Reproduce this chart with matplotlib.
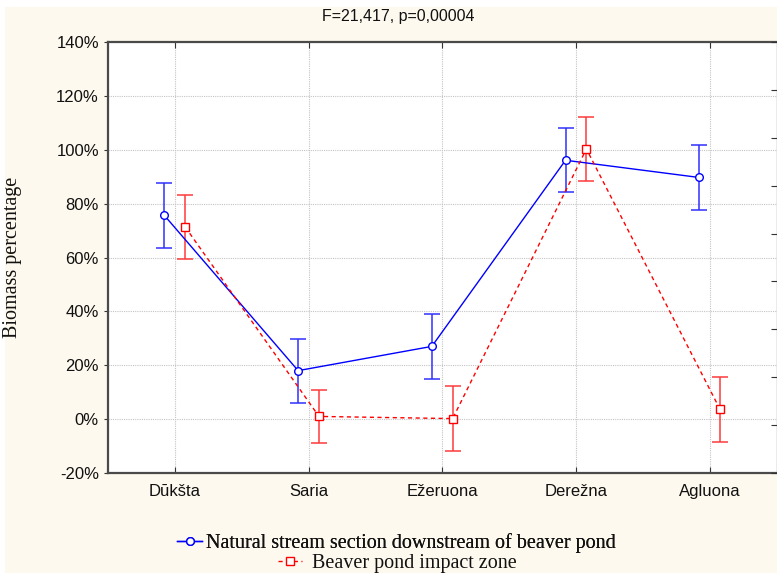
import matplotlib
matplotlib.use("Agg")
import matplotlib.pyplot as plt
from matplotlib.lines import Line2D
from matplotlib.patches import Rectangle
import numpy as np

categories = ["Dūkšta", "Saria", "Ežeruona", "Derežna", "Agluona"]
natural_mean = [75.6, 18.0, 27.0, 96.1, 89.7]
natural_err = [12.0, 11.9, 12.0, 11.9, 11.9]
impact_mean = [71.3, 1.0, 0.2, 100.3, 3.6]
impact_err = [12.0, 9.8, 12.0, 11.9, 12.0]
ytick_values = [-20, 0, 20, 40, 60, 80, 100, 120, 140]
ytick_labels = ["-20%", "0%", "20%", "40%", "60%", "80%", "100%", "120%", "140%"]
title_text = "F=21,417, p=0,00004"
ylabel_text = "Biomass percentage"
legend_natural = "Natural stream section downstream of beaver pond"
legend_impact = "Beaver pond impact zone"

W, H = 777, 573
fig = plt.figure(figsize=(W / 100, H / 100), dpi=100, facecolor="white")
fig.patches.append(Rectangle((5 / W, 0), 1, 1 - 7 / H, transform=fig.transFigure,
                             facecolor="#fef9ee", edgecolor="none", zorder=-10))

left, right, top, bottom = 108, 776.5, 42, 473
ax = fig.add_axes([left / W, 1 - bottom / H, (right - left) / W, (bottom - top) / H])
ax.set_facecolor("white")

x = np.arange(len(categories))
off = 0.078
sans = "Liberation Sans"
serif = "Liberation Serif"

ax.errorbar(x - off, natural_mean, yerr=natural_err, fmt="none", ecolor="#3030ff",
            elinewidth=1.1, capsize=6, capthick=1.1, zorder=3)
ax.errorbar(x + off, impact_mean, yerr=impact_err, fmt="none", ecolor="#ff3a3a",
            elinewidth=1.1, capsize=6, capthick=1.1, zorder=3)
ax.plot(x - off, natural_mean, color="#0000ff", lw=1.0, marker="o", ms=5.5,
        mfc="white", mec="#0000ff", mew=1.0, zorder=4)
ax.plot(x + off, impact_mean, color="#ff0000", lw=1.0, ls=(0, (3, 2.5)), marker="s", ms=5.5,
        mfc="white", mec="#ff0000", mew=1.0, zorder=4)

ax.set_xlim(-0.5, 4.5)
ax.set_ylim(-20, 140)
ax.set_xticks(x)
ax.set_xticklabels(categories, fontfamily=sans, fontsize=12, color="#111111")
ax.set_yticks(ytick_values)
ax.set_yticklabels(ytick_labels, fontfamily=sans, fontsize=12, color="#111111")
ax.tick_params(axis="x", direction="in", length=4, top=True, pad=8, color="#333333")
ax.tick_params(axis="y", direction="out", length=3, pad=3.5, color="#333333")
ax.grid(True, color="#c4c4c4", lw=0.8, ls=(0, (1, 1)))
ax.set_axisbelow(True)
for s in ["left", "bottom", "top"]:
    ax.spines[s].set_color("#4a4a4a")
    ax.spines[s].set_linewidth(1.6)
ax.spines["right"].set_color("#9a9a9a")
ax.spines["right"].set_linewidth(1.0)

ax.set_ylabel(ylabel_text, fontfamily=serif, fontsize=14.5, color="#111111")
ax.yaxis.set_label_coords((22 - left) / (right - left), 0.5)

ax2 = ax.twinx()
ax2.set_ylim(0, 9)
ax2.set_yticks(np.arange(10))
ax2.tick_params(axis="y", direction="in", length=4, labelright=False, color="#333333")
for s in ["left", "bottom", "top", "right"]:
    ax2.spines[s].set_visible(False)

fig.text(398 / W, 1 - 16 / H, title_text, ha="center", va="center",
         fontfamily=sans, fontsize=11.5, color="#111111")

h1 = Line2D([], [], color="#0000ff", lw=1.0, marker="o", ms=5.5, mfc="white", mec="#0000ff")
h2 = Line2D([], [], color="#ff0000", lw=1.0, ls=(0, (3, 2.5)), marker="s", ms=5.5,
            mfc="white", mec="#ff0000")
leg1 = fig.legend([h1], [legend_natural], loc="center left",
                  bbox_to_anchor=(177 / W, 1 - 543 / H), frameon=False,
                  prop={"family": serif, "size": 14.5}, handlelength=1.25,
                  handletextpad=0.2, borderpad=0, borderaxespad=0)
leg2 = fig.legend([h2], [legend_impact], loc="center left",
                  bbox_to_anchor=(278 / W, 1 - 563 / H), frameon=False,
                  prop={"family": serif, "size": 14.5}, handlelength=1.2,
                  handletextpad=0.5, borderpad=0, borderaxespad=0)
fig.add_artist(leg1)
for t in leg1.get_texts() + leg2.get_texts():
    t.set_color("#111111")

fig.savefig("out.png", dpi=100, facecolor=fig.get_facecolor())
